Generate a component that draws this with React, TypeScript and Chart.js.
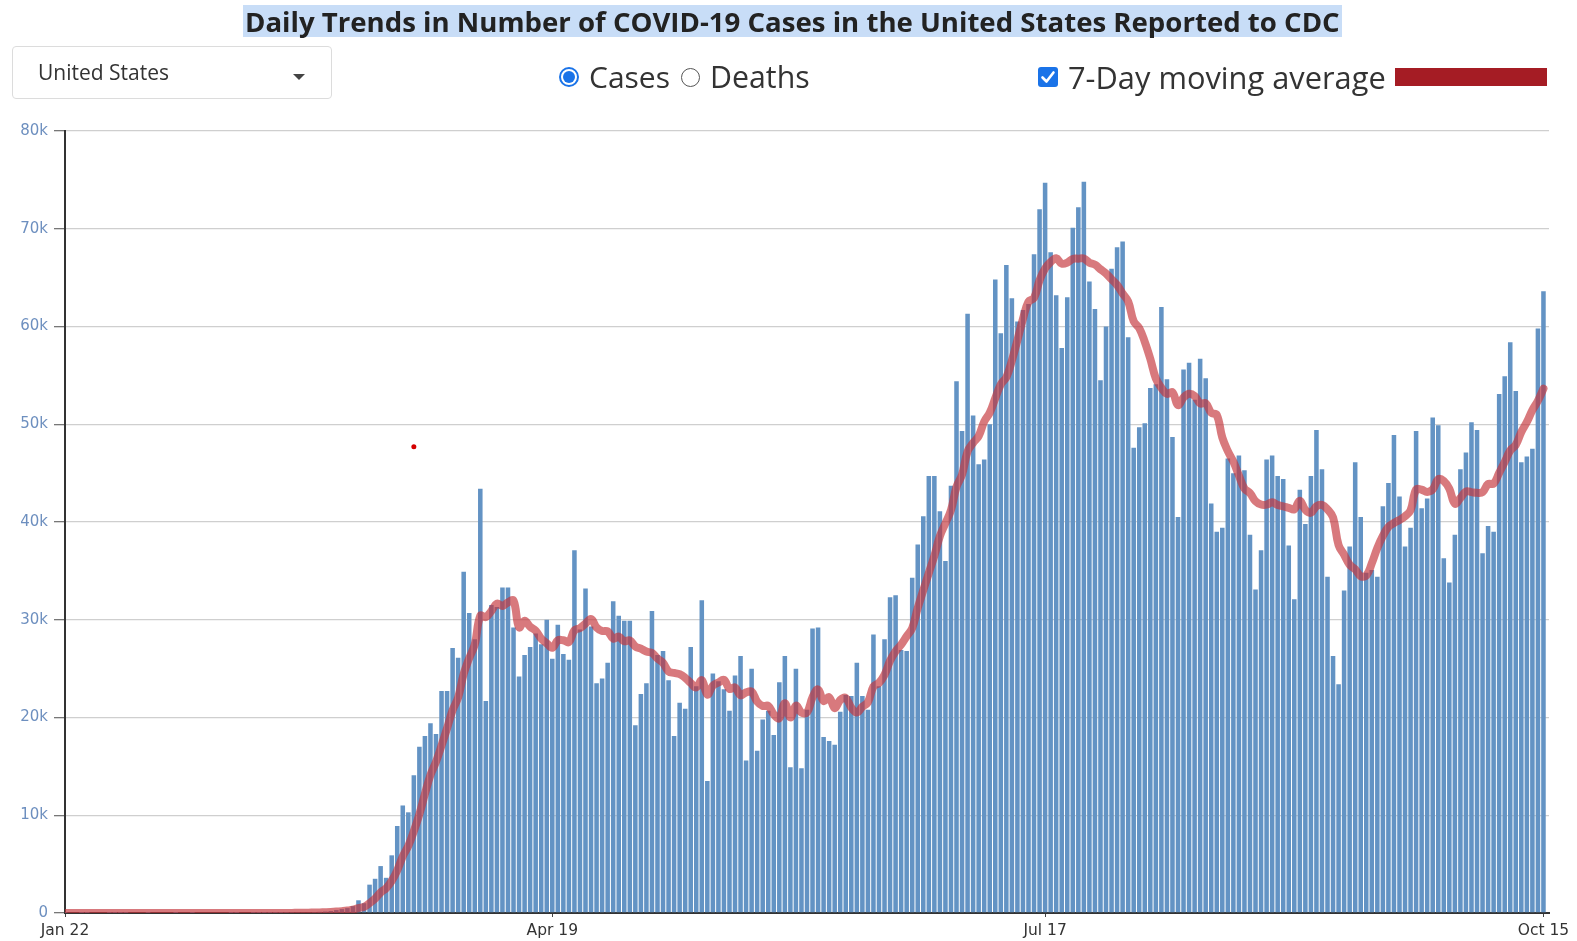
import React, { useEffect, useRef } from "react";
import { Chart, registerables } from "chart.js";

Chart.register(...registerables);

// Daily new cases (thousands), Jan 22 .. Oct 15
const casesJan = [0.001, 0, 0, 0.001, 0.001, 0, 0, 0, 0.001, 0.001];
const casesFeb = [
  0.001, 0.001, 0, 0, 0, 0.001, 0, 0, 0, 0, 0.001, 0, 0, 0.001, 0, 0, 0, 0, 0, 0,
  0.001, 0.002, 0, 0, 0.001, 0.002, 0.003, 0.005, 0.008,
];
const casesMar = [
  0.01, 0.02, 0.03, 0.04, 0.05, 0.08, 0.1, 0.12, 0.15, 0.2, 0.3, 0.4, 0.5, 0.7,
  1.3, 1.0, 2.9, 3.5, 4.8, 3.6, 5.9, 8.9, 11.0, 10.3, 14.1, 17.0, 18.1, 19.4, 18.3, 22.7, 22.7,
];
const casesApr = [
  27.1, 26.1, 34.9, 30.7, 28.0, 43.4, 21.7, 31.5, 31.3, 33.3, 33.3, 29.2, 24.2, 26.4, 27.2,
  28.6, 27.5, 30.0, 26.0, 29.5, 26.5, 25.9, 37.1, 29.0, 33.2, 29.3, 23.5, 24.0, 25.6, 31.9,
];
const casesMay = [
  30.4, 29.9, 29.9, 19.2, 22.4, 23.5, 30.9, 26.4, 26.8, 23.8, 18.1, 21.5, 20.9, 27.2, 23.2,
  32.0, 13.5, 24.5, 23.7, 22.9, 20.7, 24.3, 26.3, 15.6, 25.0, 16.6, 19.8, 20.7, 18.2, 23.6, 26.3,
];
const casesJun = [
  14.9, 25.0, 14.8, 20.8, 29.1, 29.2, 18.0, 17.6, 17.2, 20.6, 22.3, 22.2, 25.6, 22.2, 20.8,
  28.5, 23.2, 28.0, 32.3, 32.5, 26.9, 26.8, 34.3, 37.7, 40.6, 44.7, 44.7, 41.1, 36.0, 43.7,
];
const casesJul = [
  54.4, 49.3, 61.3, 50.9, 45.9, 46.4, 50.0, 64.8, 59.3, 66.3, 62.9, 60.5, 61.7, 62.3, 67.4,
  72.0, 74.7, 67.6, 63.2, 57.8, 63.0, 70.1, 72.2, 74.8, 64.6, 61.8, 54.5, 60.0, 65.9, 68.1, 68.7,
];
const casesAug = [
  58.9, 47.6, 49.7, 50.1, 53.7, 54.1, 62.0, 54.6, 48.7, 40.5, 55.6, 56.3, 52.5, 56.7, 54.7,
  41.9, 39.0, 39.4, 46.5, 45.0, 46.8, 45.3, 38.7, 33.1, 37.1, 46.4, 46.8, 44.7, 44.4, 37.6, 32.1,
];
const casesSep = [
  43.3, 39.8, 44.7, 49.4, 45.4, 34.4, 26.3, 23.4, 33.0, 37.5, 46.1, 40.5, 34.8, 35.1, 34.4,
  41.6, 44.0, 48.9, 42.6, 37.5, 39.4, 49.3, 41.4, 42.4, 50.7, 49.9, 36.3, 33.8, 38.7, 45.4,
];
const casesOct = [
  47.1, 50.2, 49.4, 36.8, 39.6, 39.0, 53.1, 54.9, 58.4, 53.4, 46.1, 46.7, 47.5, 59.8, 63.6,
];

// x-axis ticks (day index from Jan 22) and their labels
const tickDays = [0, 88, 177, 267];
const tickLabels = ["Jan 22", "Apr 19", "Jul 17", "Oct 15"];
const yTickValues = [0, 10, 20, 30, 40, 50, 60, 70, 80];
const yTickLabels = ["0", "10k", "20k", "30k", "40k", "50k", "60k", "70k", "80k"];

// stray red dot visible in the picture (day index, thousands)
const strayPoint = [{ x: 63, y: 47.7 }];

const cases = [
  ...casesJan, ...casesFeb, ...casesMar, ...casesApr, ...casesMay,
  ...casesJun, ...casesJul, ...casesAug, ...casesSep, ...casesOct,
];

function ChartCanvas() {
  const ref = useRef<HTMLCanvasElement | null>(null);
  useEffect(() => {
    if (!ref.current) return;
    const barPoints = cases.map((v, i) => ({ x: i, y: v }));
    const avgPoints = cases.map((_, i) => {
      const from = Math.max(0, i - 6);
      const win = cases.slice(from, i + 1);
      return { x: i, y: win.reduce((a, b) => a + b, 0) / win.length };
    });
    const chart = new Chart(ref.current, {
      data: {
        datasets: [
          {
            type: "scatter",
            data: strayPoint,
            pointRadius: 2.5,
            backgroundColor: "#d40000",
            borderWidth: 0,
            order: 0,
          } as any,
          {
            type: "line",
            data: avgPoints,
            borderColor: "rgba(196,52,58,0.66)",
            borderWidth: 8,
            pointRadius: 0,
            tension: 0.4,
            borderCapStyle: "round",
            borderJoinStyle: "round",
            order: 1,
          } as any,
          {
            type: "bar",
            data: barPoints,
            backgroundColor: "rgb(99,147,196)",
            barPercentage: 0.82,
            categoryPercentage: 1,
            order: 2,
          } as any,
        ],
      },
      options: {
        animation: false,
        responsive: false,
        maintainAspectRatio: false,
        devicePixelRatio: 1,
        layout: { padding: { top: 131, right: 28, left: 0, bottom: 0 } },
        plugins: { legend: { display: false }, tooltip: { enabled: false } },
        scales: {
          x: {
            type: "linear",
            min: 0,
            max: 268,
            offset: false,
            afterBuildTicks: (s: any) => {
              s.ticks = tickDays.map((v) => ({ value: v }));
            },
            afterFit: (s: any) => {
              s.height = 28;
            },
            grid: { display: true, drawOnChartArea: false, tickLength: 4, color: "#444", offset: false },
            border: { color: "#333", width: 2 },
            ticks: {
              autoSkip: false,
              maxRotation: 0,
              padding: 5,
              color: "#333",
              font: { family: "DejaVu Sans", size: 15.5 },
              callback: (v: any) => {
                const k = tickDays.indexOf(Number(v));
                return k >= 0 ? tickLabels[k] : "";
              },
            },
          },
          y: {
            min: 0,
            max: 80,
            afterBuildTicks: (s: any) => {
              s.ticks = yTickValues.map((v) => ({ value: v }));
            },
            afterFit: (s: any) => {
              s.width = 65;
            },
            grid: { color: "#cfcfcf", tickLength: 11, tickColor: "#777", lineWidth: 1.3 },
            border: { color: "#333", width: 2 },
            ticks: {
              padding: 6,
              color: "#6d8fbf",
              font: { family: "DejaVu Sans", size: 15 },
              callback: (v: any) => {
                const k = yTickValues.indexOf(Number(v));
                return k >= 0 ? yTickLabels[k] : "";
              },
            },
          },
        },
      } as any,
    });
    return () => chart.destroy();
  }, []);
  return (
    <canvas
      ref={ref}
      width={1577}
      height={941}
      style={{ position: "absolute", left: 0, top: 0, width: 1577, height: 941 }}
    />
  );
}

const font = '"Open Sans", "Noto Sans", sans-serif';

export default function App() {
  return (
    <div
      style={{
        position: "fixed",
        left: 0,
        top: 0,
        width: 1577,
        height: 941,
        background: "#fff",
        overflow: "hidden",
        fontFamily: font,
      }}
    >
      <ChartCanvas />
      <div
        style={{
          position: "absolute",
          left: 243,
          top: 5,
          height: 32,
          lineHeight: "32px",
          padding: "0 2px",
          background: "#c8ddf7",
          fontWeight: 700,
          fontSize: 27.6,
          color: "#222",
          whiteSpace: "nowrap",
        }}
      >
        Daily Trends in Number of COVID-19 Cases in the United States Reported to CDC
      </div>
      <div
        style={{
          position: "absolute",
          left: 12,
          top: 46,
          width: 320,
          height: 53,
          border: "1px solid #dcdcdc",
          borderRadius: 4,
          boxSizing: "border-box",
        }}
      />
      <div
        style={{
          position: "absolute",
          left: 38,
          top: 57,
          lineHeight: "30px",
          fontSize: 21,
          color: "#333",
          whiteSpace: "nowrap",
        }}
      >
        United States
      </div>
      <div
        style={{
          position: "absolute",
          left: 293,
          top: 74,
          width: 0,
          height: 0,
          borderLeft: "6px solid transparent",
          borderRight: "6px solid transparent",
          borderTop: "6px solid #444",
        }}
      />
      {/* radio: Cases (checked) */}
      <div
        style={{
          position: "absolute",
          left: 559,
          top: 67,
          width: 20,
          height: 20,
          borderRadius: "50%",
          border: "2px solid #1a73e8",
          boxSizing: "border-box",
          background: "#fff",
        }}
      >
        <div
          style={{
            position: "absolute",
            left: 2,
            top: 2,
            width: 12,
            height: 12,
            borderRadius: "50%",
            background: "#1a73e8",
          }}
        />
      </div>
      <div
        style={{
          position: "absolute",
          left: 589,
          top: 57,
          lineHeight: "40px",
          fontSize: 30,
          color: "#333",
          whiteSpace: "nowrap",
        }}
      >
        Cases
      </div>
      <div
        style={{
          position: "absolute",
          left: 681,
          top: 68,
          width: 19,
          height: 19,
          borderRadius: "50%",
          border: "1.5px solid #555",
          boxSizing: "border-box",
          background: "#fff",
        }}
      />
      <div
        style={{
          position: "absolute",
          left: 710,
          top: 57,
          lineHeight: "40px",
          fontSize: 30.3,
          color: "#333",
          whiteSpace: "nowrap",
        }}
      >
        Deaths
      </div>
      {/* checkbox */}
      <div
        style={{
          position: "absolute",
          left: 1038,
          top: 67,
          width: 20,
          height: 20,
          borderRadius: 3,
          background: "#1a73e8",
        }}
      >
        <svg width="20" height="20" viewBox="0 0 20 20" style={{ position: "absolute", left: 0, top: 0 }}>
          <path d="M4.5 10.5 L8.5 14.5 L15.5 5.5" stroke="#fff" strokeWidth="2.6" fill="none" strokeLinecap="round" strokeLinejoin="round" />
        </svg>
      </div>
      <div
        style={{
          position: "absolute",
          left: 1068,
          top: 57,
          lineHeight: "40px",
          fontSize: 30.8,
          color: "#333",
          whiteSpace: "nowrap",
        }}
      >
        7-Day moving average
      </div>
      <div
        style={{
          position: "absolute",
          left: 1395,
          top: 68,
          width: 152,
          height: 18,
          background: "#a51c24",
        }}
      />
    </div>
  );
}
